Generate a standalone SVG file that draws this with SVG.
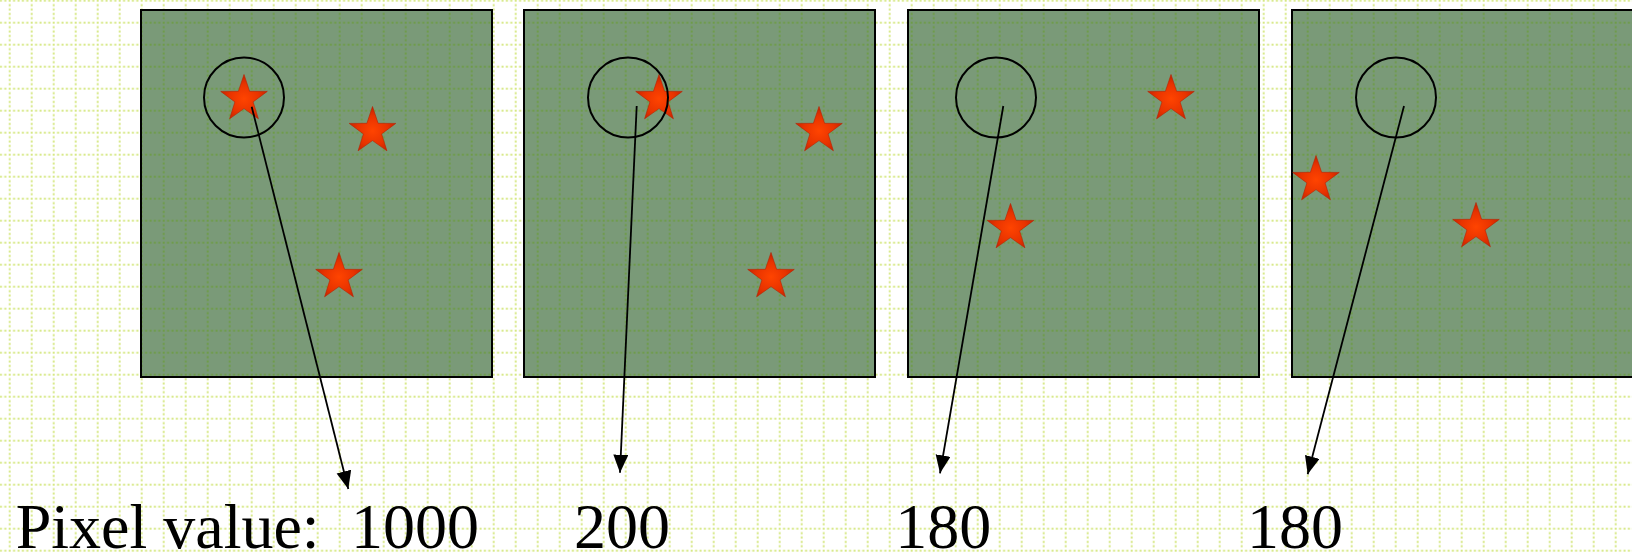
<svg xmlns="http://www.w3.org/2000/svg" width="1632" height="553" viewBox="0 0 1632 553">
  <defs>
    <pattern id="grid" patternUnits="userSpaceOnUse" x="8.7" y="-0.3" width="22" height="22">
      <line x1="1" y1="0" x2="1" y2="22" stroke="#d6e884" stroke-width="2" stroke-dasharray="2 2.4"/>
      <line x1="0" y1="1" x2="22" y2="1" stroke="#d6e884" stroke-width="2" stroke-dasharray="2 2.4"/>
    </pattern>
    <pattern id="gridIn" patternUnits="userSpaceOnUse" x="8.7" y="-0.3" width="22" height="22">
      <line x1="1" y1="0" x2="1" y2="22" stroke="#6e9c48" stroke-width="2" stroke-dasharray="2 2.4"/>
      <line x1="0" y1="1" x2="22" y2="1" stroke="#6e9c48" stroke-width="2" stroke-dasharray="2 2.4"/>
    </pattern>
    <radialGradient id="starFill" cx="0.5" cy="0.55" r="0.55">
      <stop offset="0" stop-color="#ff4400"/>
      <stop offset="0.6" stop-color="#e83300"/>
      <stop offset="1" stop-color="#c42200"/>
    </radialGradient>
    <path id="star" d="M0,-24.5 L5.6,-7.7 L23.3,-7.6 L9.1,2.9 L14.4,19.8 L0,9.6 L-14.4,19.8 L-9.1,2.9 L-23.3,-7.6 L-5.6,-7.7 Z"/>
    <marker id="arrow" markerUnits="userSpaceOnUse" markerWidth="20" markerHeight="16" refX="18" refY="7.5" orient="auto">
      <path d="M0,0 L18,7.5 L0,15 Z" fill="#000"/>
    </marker>
  </defs>
  <style>
    .panel { fill: #7a9a78; }
    .panelGrid { fill: url(#gridIn); stroke: #000; stroke-width: 2; }
    .st { fill: url(#starFill); stroke: #b82000; stroke-width: 0.6; }
    .ring { fill: none; stroke: #000; stroke-width: 2; }
    .conn { stroke: #000; stroke-width: 1.8; fill: none; marker-end: url(#arrow); }
    .lbl { font-family: "Liberation Serif", "Times New Roman", serif; font-size: 64px; fill: #000; }
  </style>
  <rect width="1632" height="553" fill="#ffffff"/>
  <rect width="1632" height="553" fill="url(#grid)"/>

  <g id="panel1">
    <rect class="panel" x="141" y="10" width="351" height="367"/>
    <rect class="panelGrid" x="141" y="10" width="351" height="367"/>
    <use href="#star" class="st" x="244" y="99"/>
    <use href="#star" class="st" x="372.5" y="131"/>
    <use href="#star" class="st" x="339" y="277"/>
    <circle class="ring" cx="244" cy="97.5" r="40"/>
  </g>
  <g id="panel2">
    <rect class="panel" x="524" y="10" width="351" height="367"/>
    <rect class="panelGrid" x="524" y="10" width="351" height="367"/>
    <use href="#star" class="st" x="659" y="99"/>
    <use href="#star" class="st" x="819" y="131"/>
    <use href="#star" class="st" x="771" y="277"/>
    <circle class="ring" cx="628" cy="97.5" r="40"/>
  </g>
  <g id="panel3">
    <rect class="panel" x="908" y="10" width="351" height="367"/>
    <rect class="panelGrid" x="908" y="10" width="351" height="367"/>
    <use href="#star" class="st" x="1171" y="99"/>
    <use href="#star" class="st" x="1010.5" y="228"/>
    <circle class="ring" cx="996" cy="97.5" r="40"/>
  </g>
  <g id="panel4">
    <rect class="panel" x="1292" y="10" width="351" height="367"/>
    <rect class="panelGrid" x="1292" y="10" width="351" height="367"/>
    <use href="#star" class="st" x="1316" y="180"/>
    <use href="#star" class="st" x="1476" y="227"/>
    <circle class="ring" cx="1396" cy="97.5" r="40"/>
  </g>

  <g id="connectors">
    <line class="conn" x1="251.7" y1="106.7" x2="348.3" y2="489"/>
    <line class="conn" x1="636.7" y1="106" x2="620" y2="472.7"/>
    <line class="conn" x1="1003.3" y1="106" x2="940" y2="473.3"/>
    <line class="conn" x1="1404" y1="106" x2="1307.7" y2="474.3"/>
  </g>

  <g id="labels">
    <text class="lbl" x="15.7" y="547.5">Pixel value:</text>
    <text class="lbl" x="351" y="547.5">1000</text>
    <text class="lbl" x="574" y="547.5">200</text>
    <text class="lbl" x="895.2" y="547.5">180</text>
    <text class="lbl" x="1247" y="547.5">180</text>
  </g>
</svg>
